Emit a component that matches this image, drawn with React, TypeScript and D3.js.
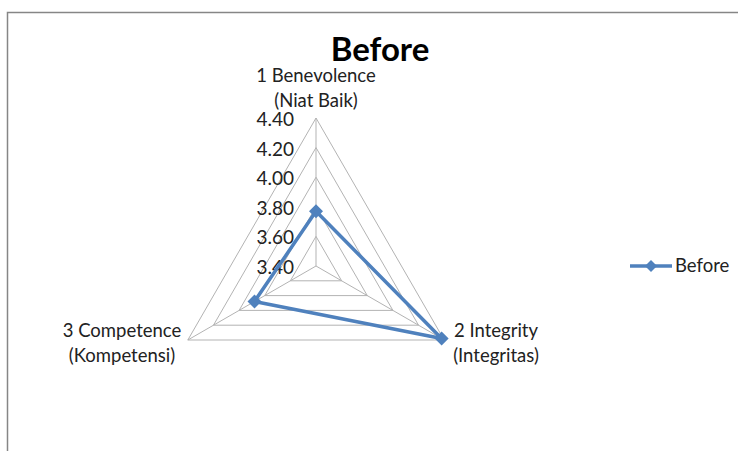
import * as d3 from 'd3'

const axes = ['1 Benevolence\n(Niat Baik)', '2 Integrity\n(Integritas)', '3 Competence\n(Kompetensi)']
const beforeValues = [3.77, 4.38, 3.88]
const ticks = [3.4, 3.6, 3.8, 4.0, 4.2, 4.4]
const seriesName = 'Before'

const W = 738
const H = 451
const cx = 316
const cy = 266
const R = 148
const blue = '#4F81BD'
const font = 'Lato, "Open Sans", sans-serif'

export default function App() {
  const r = d3.scaleLinear().domain([3.4, 4.4]).range([0, R])
  const angle = d3.scaleLinear().domain([0, axes.length]).range([0, 2 * Math.PI])
  const pt = (i: number, v: number): [number, number] => {
    const a = angle(i)
    return [cx + r(v) * Math.sin(a), cy - r(v) * Math.cos(a)]
  }
  const ring = (v: number) => d3.line()(axes.map((_, i) => pt(i, v)).concat([pt(0, v)]))!
  const dataPath = d3.line()(beforeValues.map((v, i) => pt(i, v)).concat([pt(0, beforeValues[0])]))!
  const diamond = (x: number, y: number, s = 7) => `M${x},${y - s}L${x + s},${y}L${x},${y + s}L${x - s},${y}Z`

  // label placement around the outer ring
  const labelPos = [
    { x: cx, y: 82, anchor: 'middle' },
    { x: 496, y: 337, anchor: 'middle' },
    { x: 122, y: 337, anchor: 'middle' },
  ]

  return (
    <svg width={W} height={H} style={{ position: 'absolute', left: 0, top: 0 }} fontFamily={font}>
      <rect width={W} height={H} fill="#fff" />
      <path d={`M7.5,${H + 2}V12.5H${W + 2}`} fill="none" stroke="#868686" strokeWidth={1.5} />

      {ticks.slice(1).map(t => (
        <path key={t} d={ring(t)} fill="none" stroke="#B3B3B3" strokeWidth={1} />
      ))}
      {axes.map((_, i) => {
        const [x, y] = pt(i, 4.4)
        return <line key={i} x1={cx} y1={cy} x2={x} y2={y} stroke="#B3B3B3" strokeWidth={1} />
      })}

      {ticks.map(t => (
        <text key={t} x={cx - 22} y={cy - r(t) + 8} textAnchor="end" fontSize={19} fill="#222">
          {t.toFixed(2)}
        </text>
      ))}

      {axes.map((a, i) => (
        <text key={a} x={labelPos[i].x} y={labelPos[i].y} textAnchor={labelPos[i].anchor} fontSize={18.5} fill="#222">
          {a.split('\n').map((s, j) => (
            <tspan key={j} x={labelPos[i].x} dy={j === 0 ? 0 : 25}>{s}</tspan>
          ))}
        </text>
      ))}

      <path d={dataPath} fill="none" stroke={blue} strokeWidth={3.5} strokeLinejoin="round" />
      {beforeValues.map((v, i) => {
        const [x, y] = pt(i, v)
        return <path key={i} d={diamond(x, y)} fill={blue} />
      })}

      <text x={380} y={61} textAnchor="middle" fontSize={33} fontWeight="bold" fill="#000">Before</text>

      <line x1={630} x2={672} y1={266} y2={266} stroke={blue} strokeWidth={3.5} />
      <path d={diamond(651, 266, 6)} fill={blue} />
      <text x={675} y={272} fontSize={18.5} fill="#222">{seriesName}</text>
    </svg>
  )
}
